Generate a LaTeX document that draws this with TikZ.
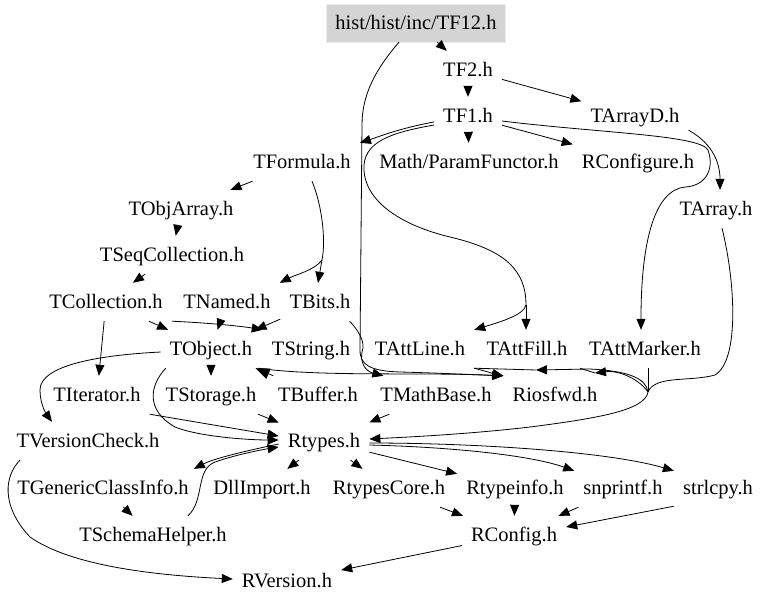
\documentclass[tikz,border=0pt]{standalone}
\usepackage{fontspec}
\setmainfont{Liberation Serif}
\usetikzlibrary{arrows.meta,calc}
\begin{document}
\begin{tikzpicture}[x=1pt,y=-1pt,
  file/.style={rectangle, inner xsep=9pt, inner ysep=0pt, minimum height=38pt,
    text height=13.6pt, text depth=0pt, font=\fontsize{20.5}{24}\selectfont},
  root/.style={file, fill=black!17, draw=black!8},
  dep/.style={line width=0.8pt, -{Triangle[length=11pt,width=9pt]}},
  bigdep/.style={line width=0.8pt, -{Triangle[length=14pt,width=11pt]}},
  plain/.style={line width=0.8pt}]
\useasboundingbox (0,0) rectangle (768,606);
% nodes
\node[root] (TF12) at (416,23) {hist/hist/inc/TF12.h};
\node[file] (TF2) at (468,70) {TF2.h};
\node[file] (TF1) at (468,116) {TF1.h};
\node[file] (TArrayD) at (635,116) {TArrayD.h};
\node[file] (TFormula) at (302,162) {TFormula.h};
\node[file] (MathPF) at (469,162) {Math/ParamFunctor.h};
\node[file] (RConfigure) at (638,162) {RConfigure.h};
\node[file] (TObjArray) at (181,209) {TObjArray.h};
\node[file] (TArray) at (716,209) {TArray.h};
\node[file] (TSeqCollection) at (172,255) {TSeqCollection.h};
\node[file] (TCollection) at (106,302) {TCollection.h};
\node[file] (TNamed) at (227,302) {TNamed.h};
\node[file] (TBits) at (320,302) {TBits.h};
\node[file] (TObject) at (211,349) {TObject.h};
\node[file] (TString) at (311,349) {TString.h};
\node[file] (TAttLine) at (420,349) {TAttLine.h};
\node[file] (TAttFill) at (527,349) {TAttFill.h};
\node[file] (TAttMarker) at (645,349) {TAttMarker.h};
\node[file] (TIterator) at (97,395) {TIterator.h};
\node[file] (TStorage) at (211,395) {TStorage.h};
\node[file] (TBuffer) at (318,395) {TBuffer.h};
\node[file] (TMathBase) at (436,395) {TMathBase.h};
\node[file] (Riosfwd) at (555,395) {Riosfwd.h};
\node[file] (TVersionCheck) at (88,441) {TVersionCheck.h};
\node[file] (Rtypes) at (324,441) {Rtypes.h};
\node[file] (TGenericClassInfo) at (103,488) {TGenericClassInfo.h};
\node[file] (DllImport) at (262,488) {DllImport.h};
\node[file] (RtypesCore) at (389,488) {RtypesCore.h};
\node[file] (Rtypeinfo) at (515,488) {Rtypeinfo.h};
\node[file] (snprintf) at (623,488) {snprintf.h};
\node[file] (strlcpy) at (718,488) {strlcpy.h};
\node[file] (TSchemaHelper) at (153,535) {TSchemaHelper.h};
\node[file] (RConfig) at (514,535) {RConfig.h};
\node[file] (RVersion) at (287,581) {RVersion.h};
% junction / split points
\coordinate (J) at (648,392);
\coordinate (c1) at (526,305);
\coordinate (c2) at (322,260);
\coordinate (m1) at (536,370);
\coordinate (m2) at (595,373);
% straight edges
\draw[dep] (TF12) -- (TF2);
\draw[dep] (TF2) -- (TF1);
\draw[dep] (TF2) -- (TArrayD);
\draw[dep] (TF1) -- (MathPF);
\draw[dep] (TF1) -- (RConfigure);
\draw[dep] (TFormula) -- (TObjArray);
\draw[dep] (TObjArray) -- (TSeqCollection);
\draw[dep] (TSeqCollection) -- (TCollection);
\draw[dep] (TCollection) -- (TObject);
\draw[dep] (TCollection) -- (TIterator);
\draw[dep] (TNamed) -- (TObject);
\draw[dep] (TBits) -- (TObject);
\draw[dep] (TObject) -- (TStorage);
\draw[dep] (TStorage) -- (Rtypes);
\draw[dep] (TMathBase) -- (Rtypes);
\draw[bigdep] (TBuffer) -- (TObject);
\draw[dep] (Rtypes) -- (DllImport);
\draw[dep] (Rtypes) -- (RtypesCore);
\draw[dep] (Rtypes) -- (Rtypeinfo);
\draw[dep] (TGenericClassInfo) -- (TSchemaHelper);
\draw[dep] (RtypesCore) -- (RConfig);
\draw[dep] (Rtypeinfo) -- (RConfig);
\draw[dep] (snprintf) -- (RConfig);
\draw[dep] (RConfig) -- (RVersion);
% curved edges
\draw[dep] ($(TF1.west)+(0,6)$) .. controls (400,128) and (375,138) .. (TFormula.north east);
\draw[plain] ($(TF1.west)+(0,9)$) .. controls (395,132) and (366,140) .. (364,165)
  .. controls (362,200) and (400,225) .. (450,237)
  .. controls (505,250) and (526,270) .. (c1);
\draw[dep] (c1) -- (c1 |- TAttFill.north);
\draw[dep] (c1) .. controls (524,315) and (500,322) .. (TAttLine.north east);
\draw[dep] ($(TF1.east)+(0,5)$) .. controls (600,133) and (700,135) .. (708,150)
  .. controls (715,170) and (705,186) .. (685,187)
  .. controls (655,190) and (641,240) .. ($(TAttMarker.north)+(-4,0)$);
\draw[dep] ($(TArrayD.south east)+(0,-5)$) .. controls (710,142) and (720,160) .. ($(TArray.north)+(4,0)$);
\draw[plain] ($(TFormula.south)+(10,0)$) .. controls (322,205) and (326,240) .. (c2);
\draw[dep] (c2) -- ($(TBits.north)+(-2,0)$);
\draw[dep] (c2) .. controls (315,270) and (295,275) .. (TNamed.north east);
\draw[dep] (TCollection.south east) .. controls (210,323) and (240,326) .. (TString.north west);
\draw[dep] ($(TObject.west)+(0,3)$) .. controls (100,355) and (40,365) .. (40,390)
  .. controls (40,405) and (47,415) .. ($(TVersionCheck.north)+(-36,0)$);
\draw[dep] ($(TObject.south west)+(5,0)$) .. controls (150,385) and (145,410) .. (175,427)
  .. controls (200,437) and (250,440) .. ($(Rtypes.west)+(0,-1)$);
\draw[dep] (TIterator.south east) -- ($(Rtypes.west)+(0,-5)$);
\draw[dep] ($(TBits.south east)+(-10,0)$) .. controls (358,330) and (366,342) .. (362,352)
  .. controls (360,362) and (365,371) .. ($(TMathBase.north west)+(12,0)$);
\draw[dep] ($(TF12.south)+(-17,0)$) .. controls (375,70) and (362,95) .. (362,125)
  -- (360,350) .. controls (360,365) and (370,371) .. (400,372)
  .. controls (440,373) and (480,375) .. (Riosfwd.north west);
\draw[dep] ($(TObject.south east)+(-3,0)$) .. controls (320,377) and (420,372) .. (Riosfwd.north west);
\draw[dep] (TAttLine.south east) .. controls (485,371) and (495,374) .. (Riosfwd.north west);
\draw[dep] (J) .. controls (646,378) and (628,371) .. (590,369) -- (m1);
\draw[plain] (m1) -- (TAttLine.south east);
\draw[dep] (J) .. controls (640,380) and (620,370) .. (m2);
\draw[plain] (m2) -- (TAttMarker.south west);
\draw[plain] ($(TAttMarker.south)+(3,0)$) -- (J);
\draw[plain] ($(TArray.south)+(6,0)$) .. controls (735,280) and (740,360) .. (715,375)
  .. controls (690,382) and (655,375) .. (J);
\draw[dep] (J) .. controls (645,410) and (600,418) .. (530,427)
  .. controls (470,434) and (410,437) .. ($(Rtypes.east)+(0,-2)$);
\draw[dep] ($(Rtypes.east)+(0,4)$) .. controls (450,447) and (530,455) .. ($(snprintf.north west)+(0,2)$);
\draw[dep] ($(Rtypes.east)+(0,2)$) .. controls (480,443) and (610,452) .. ($(strlcpy.north west)+(0,2)$);
\draw[dep] ($(Rtypes.west)+(0,3)$) .. controls (250,450) and (215,458) .. ($(TGenericClassInfo.north east)+(-4,0)$);
\draw[dep] ($(TSchemaHelper.north)+(35,0)$) .. controls (205,500) and (195,470) .. (215,462)
  .. controls (235,455) and (260,450) .. ($(Rtypes.west)+(0,6)$);
\draw[dep] ($(TVersionCheck.south)+(-68,0)$) .. controls (5,475) and (0,505) .. (30,537)
  .. controls (70,565) and (150,575) .. ($(RVersion.west)+(0,-2)$);
\draw[dep] ($(strlcpy.south west)+(0,-1)$) -- ($(RConfig.east)+(0,-8)$);
\end{tikzpicture}
\end{document}
